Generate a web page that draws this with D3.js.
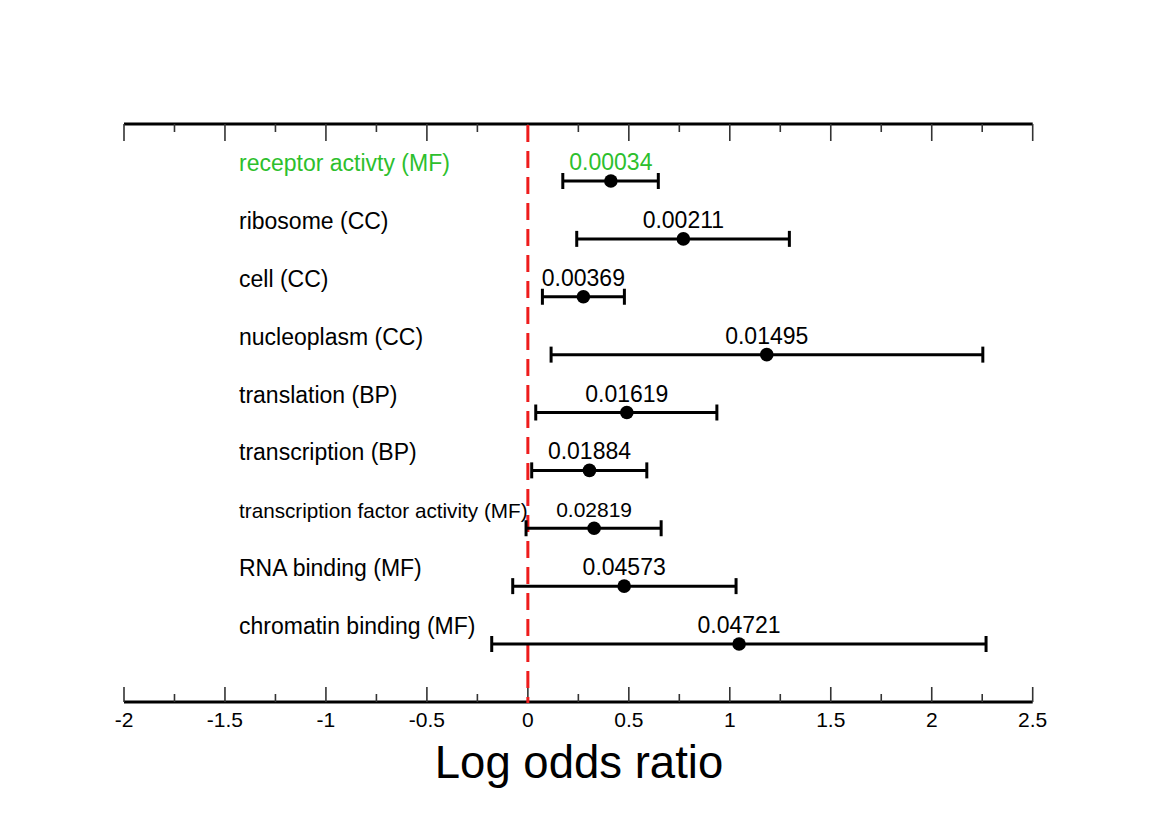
<!DOCTYPE html>
<html>
<head>
<meta charset="utf-8">
<script src="https://cdn.jsdelivr.net/npm/d3@7"></script>
<style>
  html, body { margin: 0; padding: 0; background: #fff; }
  svg { display: block; font-family: "Liberation Sans", Arial, Helvetica, sans-serif; }
</style>
</head>
<body>
<svg id="chart" width="1169" height="826"></svg>
<script>
// ---- data ----
const categories = [
  "receptor activty (MF)",
  "ribosome (CC)",
  "cell (CC)",
  "nucleoplasm (CC)",
  "translation (BP)",
  "transcription (BP)",
  "transcription factor activity (MF)",
  "RNA binding (MF)",
  "chromatin binding (MF)"
];
const logOdds = [0.411, 0.770, 0.275, 1.183, 0.490, 0.305, 0.328, 0.477, 1.046];
const ciLow   = [0.173, 0.242, 0.072, 0.115, 0.039, 0.019, -0.009, -0.075, -0.179];
const ciHigh  = [0.646, 1.295, 0.478, 2.253, 0.936, 0.589, 0.660, 1.031, 2.269];
const pValues = ["0.00034", "0.00211", "0.00369", "0.01495", "0.01619", "0.01884", "0.02819", "0.04573", "0.04721"];
const highlighted = ["receptor activty (MF)"];
const smallLabels = ["transcription factor activity (MF)"];
const xTicks = [-2, -1.5, -1, -0.5, 0, 0.5, 1, 1.5, 2, 2.5];
const xMinorTicks = [-1.75, -1.25, -0.75, -0.25, 0.25, 0.75, 1.25, 1.75, 2.25];
const xTitle = "Log odds ratio";

const rows = categories.map((c, i) => ({
  cat: c, est: logOdds[i], lo: ciLow[i], hi: ciHigh[i], p: pValues[i]
}));

// ---- layout ----
const svg = d3.select("#chart");
const x = d3.scaleLinear().domain([-2, 2.5]).range([124, 1032.7]);
const y = d3.scalePoint().domain(categories).range([181, 644]);
const topY = 124, botY = 702;
const green = "#2dbf2d";

const colorOf = c => highlighted.includes(c) ? green : "#000";

// top axis
const topAxis = svg.append("g").attr("transform", `translate(0,${topY})`);
topAxis.append("line").attr("x1", x(-2)).attr("x2", x(2.5)).attr("y1", 0).attr("y2", 0)
  .attr("stroke", "#000").attr("stroke-width", 3);
topAxis.selectAll("line.maj").data(xTicks).join("line").attr("class", "maj")
  .attr("x1", d => x(d)).attr("x2", d => x(d)).attr("y1", 0).attr("y2", 17)
  .attr("stroke", "#333").attr("stroke-width", 1.6);
topAxis.selectAll("line.min").data(xMinorTicks).join("line").attr("class", "min")
  .attr("x1", d => x(d)).attr("x2", d => x(d)).attr("y1", 0).attr("y2", 8)
  .attr("stroke", "#333").attr("stroke-width", 1.6);

// bottom axis
const botAxis = svg.append("g").attr("transform", `translate(0,${botY})`);
botAxis.append("line").attr("x1", x(-2)).attr("x2", x(2.5)).attr("y1", 0).attr("y2", 0)
  .attr("stroke", "#000").attr("stroke-width", 3);
botAxis.selectAll("line.maj").data(xTicks).join("line").attr("class", "maj")
  .attr("x1", d => x(d)).attr("x2", d => x(d)).attr("y1", 0).attr("y2", -15)
  .attr("stroke", "#333").attr("stroke-width", 1.6);
botAxis.selectAll("line.min").data(xMinorTicks).join("line").attr("class", "min")
  .attr("x1", d => x(d)).attr("x2", d => x(d)).attr("y1", 0).attr("y2", -8)
  .attr("stroke", "#333").attr("stroke-width", 1.6);
botAxis.selectAll("text").data(xTicks).join("text")
  .attr("x", d => x(d)).attr("y", 25)
  .attr("text-anchor", "middle").attr("font-size", 21).attr("fill", "#000")
  .text(d => String(d));

// axis title
svg.append("text").attr("x", 579).attr("y", 778)
  .attr("text-anchor", "middle").attr("font-size", 45.5).attr("fill", "#000")
  .text(xTitle);

// zero reference line
svg.append("line").attr("x1", x(0)).attr("x2", x(0)).attr("y1", topY + 1).attr("y2", botY + 1)
  .attr("stroke", "#ee1c1c").attr("stroke-width", 3).attr("stroke-dasharray", "17,9");

// category labels
svg.append("g").selectAll("text").data(rows).join("text")
  .attr("x", 239).attr("y", d => y(d.cat) - 10)
  .attr("font-size", d => smallLabels.includes(d.cat) ? 20.7 : 23)
  .attr("fill", d => colorOf(d.cat))
  .text(d => d.cat);

// error bars
const g = svg.append("g");
g.selectAll("line.bar").data(rows).join("line").attr("class", "bar")
  .attr("x1", d => x(d.lo)).attr("x2", d => x(d.hi))
  .attr("y1", d => y(d.cat)).attr("y2", d => y(d.cat))
  .attr("stroke", "#000").attr("stroke-width", 3);
g.selectAll("line.capl").data(rows).join("line").attr("class", "capl")
  .attr("x1", d => x(d.lo)).attr("x2", d => x(d.lo))
  .attr("y1", d => y(d.cat) - 8).attr("y2", d => y(d.cat) + 8)
  .attr("stroke", "#000").attr("stroke-width", 3);
g.selectAll("line.caph").data(rows).join("line").attr("class", "caph")
  .attr("x1", d => x(d.hi)).attr("x2", d => x(d.hi))
  .attr("y1", d => y(d.cat) - 8).attr("y2", d => y(d.cat) + 8)
  .attr("stroke", "#000").attr("stroke-width", 3);
g.selectAll("circle").data(rows).join("circle")
  .attr("cx", d => x(d.est)).attr("cy", d => y(d.cat)).attr("r", 6.8)
  .attr("fill", "#000");

// p-value labels
g.selectAll("text").data(rows).join("text")
  .attr("x", d => x(d.est)).attr("y", d => y(d.cat) - 11)
  .attr("text-anchor", "middle")
  .attr("font-size", d => smallLabels.includes(d.cat) ? 21 : 23)
  .attr("fill", d => colorOf(d.cat))
  .text(d => d.p);
</script>
</body>
</html>
